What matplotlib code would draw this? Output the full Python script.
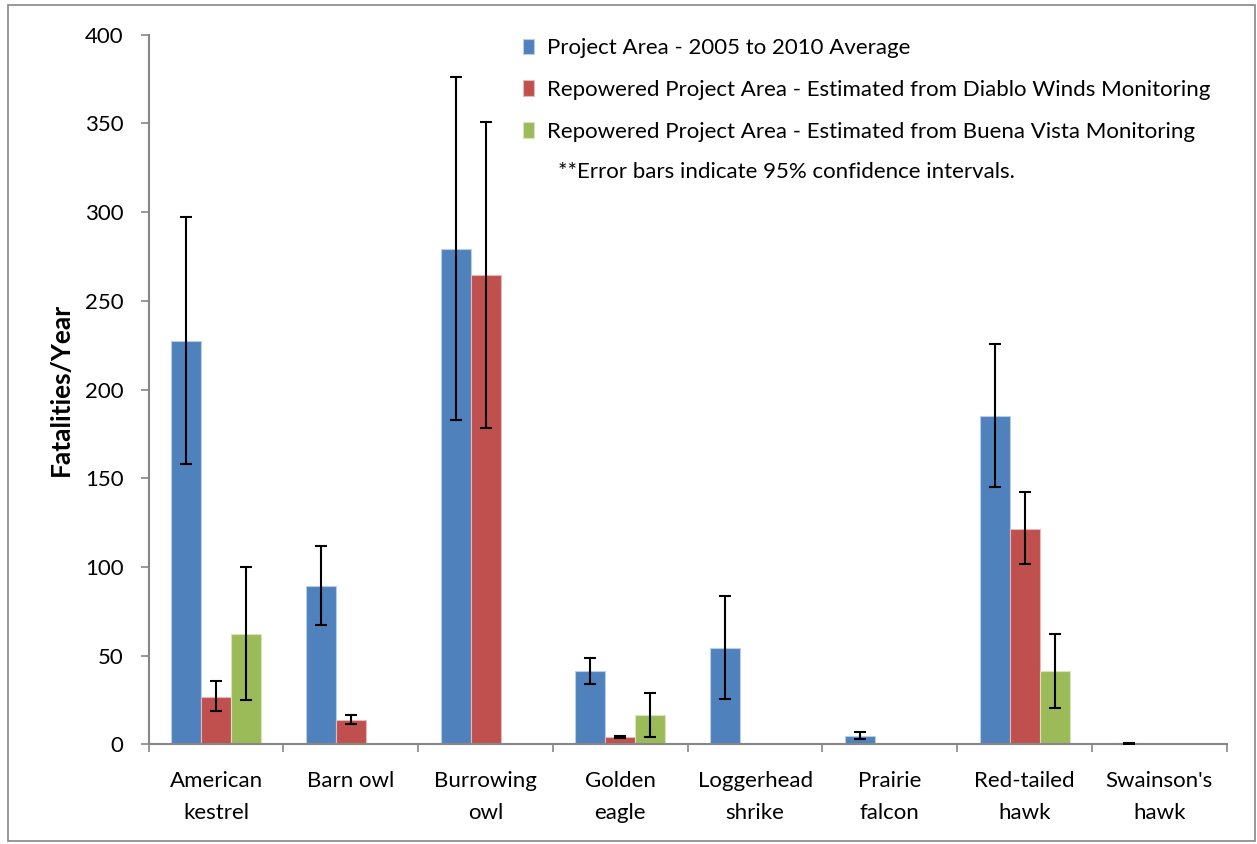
import numpy as np
import matplotlib
matplotlib.use('Agg')
import matplotlib.pyplot as plt
from matplotlib.patches import Rectangle

# data
species = ['American\nkestrel', 'Barn owl', 'Burrowing\nowl', 'Golden\neagle',
           'Loggerhead\nshrike', 'Prairie\nfalcon', 'Red-tailed\nhawk', "Swainson's\nhawk"]
series_names = ['Project Area - 2005 to 2010 Average',
                'Repowered Project Area - Estimated from Diablo Winds Monitoring',
                'Repowered Project Area - Estimated from Buena Vista Monitoring']
nan = np.nan
project_avg = [227.6, 89.5, 279.4, 41.2, 54.6, 4.8, 185.3, 0.6]
project_lo  = [158.1, 67.5, 183.0, 34.3, 25.6, 2.9, 145.0, 0.4]
project_hi  = [297.1, 111.7, 376.2, 48.9, 83.9, 7.0, 225.7, 1.0]
diablo      = [27.0, 13.8, 264.6, 4.2, nan, nan, 121.6, nan]
diablo_lo   = [18.8, 11.4, 178.5, 3.8, nan, nan, 101.7, nan]
diablo_hi   = [35.6, 16.6, 351.0, 4.7, nan, nan, 142.1, nan]
buena       = [62.3, nan, nan, 16.4, nan, nan, 41.4, nan]
buena_lo    = [25.0, nan, nan, 4.0, nan, nan, 20.6, nan]
buena_hi    = [99.8, nan, nan, 29.0, nan, nan, 62.3, nan]
yticks = [0, 50, 100, 150, 200, 250, 300, 350, 400]
note = '**Error bars indicate 95% confidence intervals.'

colors = ['#4F81BD', '#C0504D', '#9BBB59']
edges = ['#B9CDE5', '#E6B9B8', '#D7E4BD']
axis_gray = '#868686'
fsize = 16

plt.rcParams['font.family'] = ['Lato', 'DejaVu Sans']

fig = plt.figure(figsize=(12.57, 8.44), dpi=100)
ax = fig.add_axes([0.1183, 0.1179, 0.8576, 0.841])

x = np.arange(len(species))
width = 0.2226
groups = [(project_avg, project_lo, project_hi), (diablo, diablo_lo, diablo_hi), (buena, buena_lo, buena_hi)]
for k, (vals, lo, hi) in enumerate(groups):
  vals = np.array(vals)
  lo = np.array(lo)
  hi = np.array(hi)
  ok = ~np.isnan(vals)
  xs = x[ok] + (k - 1) * width
  ax.bar(xs, vals[ok], width, color=colors[k], edgecolor=edges[k], linewidth=0.8,
         label=series_names[k], zorder=2)
  yerr = np.vstack([vals[ok] - lo[ok], hi[ok] - vals[ok]])
  ax.errorbar(xs, vals[ok], yerr=yerr, fmt='none', ecolor='black', elinewidth=1.5,
              capsize=4, capthick=1.5, zorder=3)

ax.set_xlim(-0.5, len(species) - 0.5)
ax.set_ylim(0, 400)
ax.set_yticks(yticks)
ax.set_xticks(x)
ax.set_xticklabels(species, fontsize=fsize, linespacing=1.78)
ax.set_xticks(np.arange(-0.5, len(species)), minor=True)
ax.tick_params(axis='x', which='major', length=0, pad=19)
ax.tick_params(axis='x', which='minor', length=6, width=1.2, color=axis_gray, direction='out')
ax.tick_params(axis='y', length=6, width=1.2, color=axis_gray, direction='out', pad=12, labelsize=fsize)
for side in ['top', 'right']:
  ax.spines[side].set_visible(False)
for side in ['left', 'bottom']:
  ax.spines[side].set_color(axis_gray)
  ax.spines[side].set_linewidth(1.5)
ax.set_ylabel('Fatalities/Year', fontsize=19, fontweight='bold', labelpad=9)

leg = ax.legend(loc='upper left', bbox_to_anchor=(0.409, 0.965), bbox_transform=fig.transFigure,
                frameon=False, fontsize=fsize, handlelength=0.5, handleheight=0.7,
                handletextpad=0.6, labelspacing=0.97, borderaxespad=0)
fig.text(558 / 1257, 1 - 172 / 844, note, fontsize=fsize, va='center', ha='left')

# outer chart border
fig.patches.append(Rectangle((0.0064, 0.004), 0.992, 0.99, transform=fig.transFigure,
                             fill=False, edgecolor=axis_gray, linewidth=1.2))

fig.savefig('out.png', dpi=100)
